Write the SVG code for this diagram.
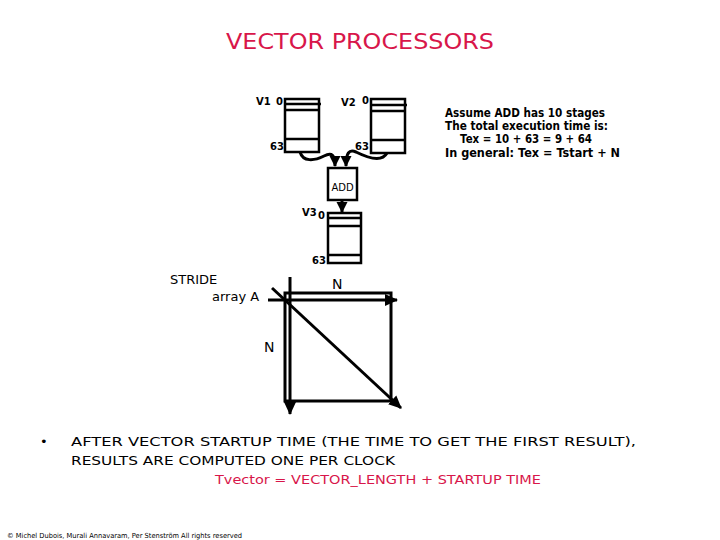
<svg xmlns="http://www.w3.org/2000/svg" width="720" height="540" viewBox="0 0 720 540">
<defs>
<style>
text{font-family:"DejaVu Sans","Liberation Sans",sans-serif;fill:#000}
.red{fill:#d8164a}
.b{font-weight:bold}
.reg{fill:#fff;stroke:#000;stroke-width:2.5}
.ln{stroke:#000;stroke-width:2.5;fill:none}
.wire{stroke:#000;stroke-width:3;fill:none}
</style>
<marker id="ah" markerWidth="12" markerHeight="12" refX="10" refY="6" orient="auto" markerUnits="userSpaceOnUse">
<path d="M0,0.5 L11,6 L0,11.5 Z" fill="#000"/>
</marker>
<marker id="ahb" markerWidth="14" markerHeight="14" refX="12" refY="7" orient="auto" markerUnits="userSpaceOnUse">
<path d="M0,1 L13,7 L0,13 Z" fill="#000"/>
</marker>
</defs>
<rect width="720" height="540" fill="#fff"/>

<g id="title"><text class="red" x="226" y="49" font-size="21" textLength="268" lengthAdjust="spacingAndGlyphs">VECTOR PROCESSORS</text></g>

<g id="v1">
<rect class="reg" x="285" y="99" width="34" height="53"/>
<line class="ln" x1="285" y1="104" x2="321" y2="104"/>
<line class="ln" x1="285" y1="110" x2="319" y2="110"/>
<line class="ln" x1="285" y1="139" x2="319" y2="139"/>
<text class="b" x="256" y="105" font-size="10">V1</text>
<text class="b" x="276" y="105" font-size="10">0</text>
<text class="b" x="270" y="150" font-size="10">63</text>
</g>

<g id="v2">
<rect class="reg" x="371" y="99" width="34" height="54"/>
<line class="ln" x1="371" y1="105" x2="407" y2="105"/>
<line class="ln" x1="371" y1="111" x2="405" y2="111"/>
<line class="ln" x1="371" y1="140" x2="405" y2="140"/>
<text class="b" x="341" y="106" font-size="10">V2</text>
<text class="b" x="362" y="104" font-size="10">0</text>
<text class="b" x="355" y="150" font-size="10">63</text>
</g>

<g id="add">
<rect class="reg" x="328" y="168" width="29" height="32"/>
<text x="342.5" y="191" font-size="10" text-anchor="middle">ADD</text>
</g>

<g id="v3">
<rect class="reg" x="328" y="213" width="33" height="50"/>
<line class="ln" x1="328" y1="218" x2="362" y2="218"/>
<line class="ln" x1="328" y1="226" x2="361" y2="226"/>
<line class="ln" x1="328" y1="255" x2="361" y2="255"/>
<text class="b" x="302" y="216" font-size="10">V3</text>
<text class="b" x="318" y="219" font-size="10">0</text>
<text class="b" x="312" y="264" font-size="10">63</text>
</g>

<g id="connectors">
<path class="wire" d="M300,152 C303,162 314,161 324,156 C332,152 335,155 335,166" marker-end="url(#ah)"/>
<path class="wire" d="M387,153 C382,162 368,158 356,152 C349,149 346,153 346,166" marker-end="url(#ah)"/>
<line class="wire" x1="342" y1="201" x2="342" y2="212" marker-end="url(#ah)"/>
</g>

<g id="note">
<text class="b" x="445" y="117" font-size="11.5" textLength="160" lengthAdjust="spacingAndGlyphs">Assume ADD has 10 stages</text>
<text class="b" x="445" y="130" font-size="11.5" textLength="163" lengthAdjust="spacingAndGlyphs">The total execution time is:</text>
<text class="b" x="460" y="143" font-size="11.5" textLength="132" lengthAdjust="spacingAndGlyphs">Tex  = 10 + 63  = 9 + 64</text>
<text class="b" x="445" y="157" font-size="11.5" textLength="175" lengthAdjust="spacingAndGlyphs">In general: Tex = Tstart + N</text>
</g>

<g id="matrix">
<rect x="285" y="293" width="106" height="108" fill="none" stroke="#000" stroke-width="3"/>
<line class="wire" x1="290" y1="277" x2="290" y2="414" marker-end="url(#ahb)"/>
<line class="wire" x1="268" y1="300" x2="397" y2="300" marker-end="url(#ahb)"/>
<line class="wire" x1="272" y1="288" x2="401" y2="408" marker-end="url(#ahb)"/>
<text x="170" y="284" font-size="13">STRIDE</text>
<text x="212" y="301" font-size="13">array A</text>
<text x="332" y="289" font-size="14">N</text>
<text x="264" y="352" font-size="14">N</text>
</g>

<g id="body">
<text x="40" y="446" font-size="13">•</text>
<text x="71" y="446" font-size="13" textLength="565" lengthAdjust="spacingAndGlyphs">AFTER VECTOR STARTUP TIME (THE TIME TO GET THE FIRST RESULT),</text>
<text x="71" y="465" font-size="13" textLength="324" lengthAdjust="spacingAndGlyphs">RESULTS ARE COMPUTED ONE PER CLOCK</text>
<text class="red" x="215" y="484" font-size="12.5" textLength="326" lengthAdjust="spacingAndGlyphs">Tvector = VECTOR_LENGTH + STARTUP TIME</text>
</g>

<g id="footer"><text x="7" y="538" font-size="7" textLength="235" lengthAdjust="spacingAndGlyphs">© Michel Dubois, Murali Annavaram, Per Stenström All rights reserved</text></g>
</svg>
